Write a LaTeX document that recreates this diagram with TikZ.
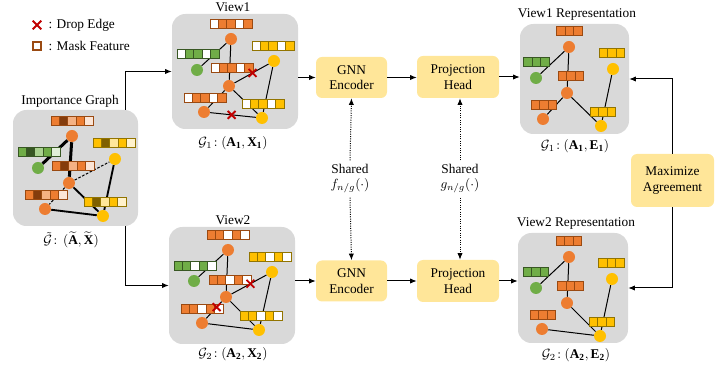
\documentclass[tikz,border=0pt]{standalone}
\usepackage{fontspec}
\setmainfont{Liberation Serif}
\usepackage{amsmath, amssymb}
\usetikzlibrary{calc, arrows.meta, shapes.misc}
\tikzset{every picture/.style={line width=0.75pt}}

\definecolor{boxgrey}{HTML}{D9D9D9}
\definecolor{nodeorange}{HTML}{ED7D31}
\definecolor{nodegreen}{HTML}{70AD47}
\definecolor{nodeyellow}{HTML}{FFC000}
\definecolor{darkorange}{HTML}{843C0C}
\definecolor{lightorange}{HTML}{F4B183}
\definecolor{paleorange}{HTML}{FBE5D6}
\definecolor{darkgreen}{HTML}{375623}
\definecolor{lightgreen}{HTML}{A9D18E}
\definecolor{palegreen}{HTML}{E2F0D9}
\definecolor{darkyellow}{HTML}{7F6000}
\definecolor{lightyellow}{HTML}{FFE699}
\definecolor{paleyellow}{HTML}{FFF2CC}
\definecolor{obrd}{HTML}{9A4A12}
\definecolor{gbrd}{HTML}{385723}
\definecolor{ybrd}{HTML}{927400}
\definecolor{blockyellow}{HTML}{FFE699}
\definecolor{dropred}{HTML}{C00000}

\pgfdeclarelayer{bottom}
\pgfdeclarelayer{boxes}
\pgfdeclarelayer{edges}
\pgfsetlayers{bottom,boxes,edges,main}

\tikzset{
  gbox/.style={fill=boxgrey, rounded corners=10pt, inner sep=0pt},
  onode/.style={circle, fill=nodeorange, inner sep=0pt, minimum size=9pt},
  gnode/.style={onode, fill=nodegreen},
  ynode/.style={onode, fill=nodeyellow},
  cell/.style={rectangle, inner sep=0pt, minimum width=6.3pt, minimum height=6.75pt, line width=0.75pt},
  edge/.style={draw=black, line width=0.75pt},
  boldedge/.style={draw=black, line width=2.25pt},
  midedge/.style={draw=black, line width=1.4pt},
  weakedge/.style={draw=black, line width=0.75pt, dash pattern=on 2pt off 1.2pt},
  dropx/.style={cross out, draw=dropred, line width=1.4pt, minimum size=4.5pt, inner sep=0pt},
  block/.style={fill=blockyellow, rounded corners=4.5pt, align=center, inner sep=0pt, font=\fontsize{10}{11.5}\selectfont},
  flow/.style={-{Latex[length=5pt,width=4pt]}, line width=0.75pt},
  sharedflow/.style={-{Latex[length=5pt,width=4pt]}, line width=0.75pt, densely dotted},
  title/.style={inner sep=1pt, font=\fontsize{10}{12}\selectfont}
}

% feature bar: [middle cell] name, centre, border colour, cell fills
\newcommand{\featbar}[5][3]{%
  \coordinate (#2) at #3;
  \foreach \fc [count=\ci] in {#5} {
    \node[cell, draw=#4, fill=\fc] (#2-\ci) at ($(#2)+({(\ci-#1)*8.4},0)$) {};
  }%
}

\begin{document}
\begin{tikzpicture}[x=0.75pt,y=0.75pt,yscale=-1,xscale=1]
\useasboundingbox (0,0) rectangle (715,370);

%Shape: Grey panels
\begin{pgfonlayer}{boxes}
\node[gbox, minimum width=93.75pt, minimum height=87pt] (imp) at (75.5,168) {};
\node[gbox, minimum width=94.5pt, minimum height=86.25pt] (v1) at (235,71.5) {};
\node[gbox, minimum width=94.5pt, minimum height=87.75pt] (v2) at (232,285.5) {};
\node[gbox, minimum width=81.75pt, minimum height=82.5pt] (rep1) at (574.5,79) {};
\node[gbox, minimum width=82.5pt, minimum height=82.5pt] (rep2) at (573,288) {};
\end{pgfonlayer}

% Text Node
\node[dropx, minimum size=5pt] (lgx) at (37,25) {};
\node[anchor=west, title] (lgxt) at (47,25) {: Drop Edge};
\node[cell, draw=obrd, fill=white, minimum width=6pt, minimum height=6pt, line width=0.9pt] (lgm) at (37,46) {};
\node[anchor=west, title] (lgmt) at (47,46) {: Mask Feature};

% Text Node
\node[title] (imptitle) at (70,101) {Importance Graph};
\node[title] (implab) at (71,240) {$\tilde{\mathcal{G}}\!:\,(\widetilde{\mathbf{A}},\widetilde{\mathbf{X}})$};
\node[title] (v1title) at (233,7) {View1};
\node[title] (v1lab) at (233,143) {$\mathcal{G}_1\!: (\mathbf{A_1}, \mathbf{X_1})$};
\node[title] (v2title) at (233,220) {View2};
\node[title] (v2lab) at (233,354) {$\mathcal{G}_2\!: (\mathbf{A_2}, \mathbf{X_2})$};
\node[title] (rep1title) at (577,15) {View1 Representation};
\node[title] (rep1lab) at (575,146) {$\mathcal{G}_1\!: (\mathbf{A_1}, \mathbf{E_1})$};
\node[title] (rep2title) at (576,224) {View2 Representation};
\node[title] (rep2lab) at (576,355) {$\mathcal{G}_2\!: (\mathbf{A_2}, \mathbf{E_2})$};

%Importance graph
\featbar{ibar1}{(72,121.5)}{obrd}{nodeorange,darkorange,lightorange,nodeorange,paleorange}
\featbar{ibar2}{(39,152.5)}{gbrd}{nodegreen,darkgreen,lightgreen,nodegreen,palegreen}
\featbar{ibar3}{(114,143.5)}{ybrd}{nodeyellow,darkyellow,lightyellow,nodeyellow,paleyellow}
\featbar{ibar4}{(73,166.5)}{obrd}{nodeorange,darkorange,lightorange,nodeorange,paleorange}
\featbar{ibar5}{(46,195.5)}{obrd}{nodeorange,darkorange,lightorange,nodeorange,paleorange}
\featbar{ibar6}{(105,202)}{ybrd}{nodeyellow,darkyellow,lightyellow,nodeyellow,paleyellow}
\node[onode] (ia) at (72,136) {};
\node[gnode] (ig) at (38,168) {};
\node[onode] (ib) at (69,183) {};
\node[onode] (ic) at (45,209) {};
\node[ynode] (iy) at (115,159) {};
\node[ynode] (iz) at (103,216) {};
\begin{pgfonlayer}{edges}
\draw[boldedge] (ia) -- (ig);
\draw[boldedge] (ia) -- (ib);
\draw[weakedge] (ib) -- (iy);
\draw[weakedge] (ib) -- (ic);
\draw[midedge] (ib) -- (iz);
\draw[midedge] (iy) -- (iz);
\draw[midedge] (ic) -- (iz);
\end{pgfonlayer}

%View1
\featbar{abar1}{(231,24.5)}{obrd}{white,nodeorange,nodeorange,white,nodeorange}
\featbar{abar2}{(198,54.5)}{gbrd}{white,nodegreen,nodegreen,white,nodegreen}
\featbar{abar3}{(273,46.5)}{ybrd}{white,nodeyellow,nodeyellow,white,nodeyellow}
\featbar{abar4}{(232,68.5)}{obrd}{white,nodeorange,nodeorange,white,nodeorange}
\featbar{abar5}{(205,98.5)}{obrd}{white,nodeorange,nodeorange,white,nodeorange}
\featbar{abar6}{(263,104.5)}{ybrd}{white,nodeyellow,nodeyellow,white,nodeyellow}
\node[onode] (aa) at (231,39) {};
\node[gnode] (ag) at (197,70) {};
\node[onode] (ab) at (229,86) {};
\node[onode] (ac) at (204,112) {};
\node[ynode] (ay) at (274,61) {};
\node[ynode] (az) at (262,118) {};
\begin{pgfonlayer}{edges}
\draw[edge] (aa) -- (ag);
\draw[edge] (aa) -- (ab);
\draw[edge] (ab) -- (ay);
\draw[edge] (ab) -- (ac);
\draw[edge] (ab) -- (az);
\draw[edge] (ay) -- (az);
\draw[edge] (ac) -- (az);
\end{pgfonlayer}
\path (ab) -- (ay) node[dropx, pos=0.53] (adrop1) {};
\path (ac) -- (az) node[dropx, pos=0.47] (adrop2) {};

%View2
\featbar{bbar1}{(228,235.5)}{obrd}{nodeorange,nodeorange,white,nodeorange,white}
\featbar{bbar2}{(195,266.5)}{gbrd}{nodegreen,nodegreen,white,nodegreen,white}
\featbar{bbar3}{(270,257.5)}{ybrd}{nodeyellow,nodeyellow,white,nodeyellow,white}
\featbar{bbar4}{(230,280.5)}{obrd}{nodeorange,nodeorange,white,nodeorange,white}
\featbar{bbar5}{(202,309.5)}{obrd}{nodeorange,nodeorange,white,nodeorange,white}
\featbar{bbar6}{(261,316.5)}{ybrd}{nodeyellow,nodeyellow,white,nodeyellow,white}
\node[onode] (ba) at (228,250) {};
\node[gnode] (bg) at (194,281) {};
\node[onode] (bb) at (226,297) {};
\node[onode] (bc) at (202,323) {};
\node[ynode] (by) at (272,272) {};
\node[ynode] (bz) at (259,330) {};
\begin{pgfonlayer}{edges}
\draw[edge] (ba) -- (bg);
\draw[edge] (ba) -- (bb);
\draw[edge] (bb) -- (by);
\draw[edge] (bb) -- (bc);
\draw[edge] (bb) -- (bz);
\draw[edge] (by) -- (bz);
\draw[edge] (bc) -- (bz);
\end{pgfonlayer}
\path (bb) -- (by) node[dropx, pos=0.54] (bdrop1) {};
\path (bb) -- (bc) node[dropx, pos=0.33] (bdrop2) {};

%View1 Representation
\featbar[2]{rbar1}{(569.5,31.5)}{obrd}{nodeorange,nodeorange,nodeorange}
\featbar[2]{rbar2}{(536.5,62.5)}{gbrd}{nodegreen,nodegreen,nodegreen}
\featbar[2]{rbar3}{(612,53.5)}{ybrd}{nodeyellow,nodeyellow,nodeyellow}
\featbar[2]{rbar4}{(571,76.5)}{obrd}{nodeorange,nodeorange,nodeorange}
\featbar[2]{rbar5}{(544,105.5)}{obrd}{nodeorange,nodeorange,nodeorange}
\featbar[2]{rbar6}{(603,112.5)}{ybrd}{nodeyellow,nodeyellow,nodeyellow}
\node[onode] (ra) at (569,47) {};
\node[gnode] (rg) at (536,78) {};
\node[onode] (rb) at (567,93) {};
\node[onode] (rc) at (543,119) {};
\node[ynode] (ry) at (613,69) {};
\node[ynode] (rz) at (601,126) {};
\begin{pgfonlayer}{edges}
\draw[edge] (ra) -- (rg);
\draw[edge] (ra) -- (rb);
\draw[edge] (rb) -- (rc);
\draw[edge] (rb) -- (rz);
\draw[edge] (ry) -- (rz);
\end{pgfonlayer}

%View2 Representation
\featbar[2]{sbar1}{(569,241.5)}{obrd}{nodeorange,nodeorange,nodeorange}
\featbar[2]{sbar2}{(536,272.5)}{gbrd}{nodegreen,nodegreen,nodegreen}
\featbar[2]{sbar3}{(611.5,263.5)}{ybrd}{nodeyellow,nodeyellow,nodeyellow}
\featbar[2]{sbar4}{(570.5,286.5)}{obrd}{nodeorange,nodeorange,nodeorange}
\featbar[2]{sbar5}{(543,315.5)}{obrd}{nodeorange,nodeorange,nodeorange}
\featbar[2]{sbar6}{(602,322.5)}{ybrd}{nodeyellow,nodeyellow,nodeyellow}
\node[onode] (sa) at (569,257) {};
\node[gnode] (sg) at (536,288) {};
\node[onode] (sb) at (567,303) {};
\node[onode] (sc) at (542,329) {};
\node[ynode] (sy) at (612,279) {};
\node[ynode] (sz) at (600,336) {};
\begin{pgfonlayer}{edges}
\draw[edge] (sa) -- (sg);
\draw[edge] (sa) -- (sb);
\draw[edge] (sb) -- (sz);
\draw[edge] (sy) -- (sz);
\draw[edge] (sc) -- (sz);
\end{pgfonlayer}

%Blocks
\node[block, minimum width=53.25pt, minimum height=30.75pt] (enc1) at (351.5,77.5) {GNN\\Encoder};
\node[block, minimum width=61.5pt, minimum height=31.5pt] (proj1) at (458,77) {Projection\\Head};
\node[block, minimum width=53.25pt, minimum height=30.75pt] (enc2) at (351.5,281) {GNN\\Encoder};
\node[block, minimum width=61.5pt, minimum height=31.5pt] (proj2) at (458,281) {Projection\\Head};
\node[block, minimum width=62.25pt, minimum height=39.75pt] (maxag) at (672.5,180.5) {Maximize\\Agreement};

% Text Node
\node[title, align=center, inner sep=3pt] (sharedf) at (350,179) {Shared\\[-1pt]$f_{n/g}(\cdot)$};
\node[title, align=center, inner sep=3pt] (sharedg) at (460,179) {Shared\\[-1pt]$g_{n/g}(\cdot)$};

%Straight Lines
\coordinate (fork) at (125,180);
\begin{pgfonlayer}{bottom}
\draw[flow] (fork) |- (v1.west);
\draw[flow] (fork) |- (v2.west);
\end{pgfonlayer}
\draw[flow] (v1.east |- enc1.west) -- (enc1.west);
\draw[flow] (enc1.east) -- (enc1.east -| proj1.west);
\draw[flow] (proj1.east) -- (proj1.east -| rep1.west);
\draw[flow] (v2.east |- enc2.west) -- (enc2.west);
\draw[flow] (enc2.east) -- (enc2.east -| proj2.west);
\draw[flow] (proj2.east) -- (proj2.east -| rep2.west);
\draw[flow] (maxag.north) |- (rep1.east);
\draw[flow] (maxag.south) |- (rep2.east);
\draw[sharedflow] (sharedf.north) -- (enc1.south);
\draw[sharedflow] (sharedf.south) -- (enc2.north);
\draw[sharedflow] (sharedg.north) -- (sharedg.north |- proj1.south);
\draw[sharedflow] (sharedg.south) -- (sharedg.south |- proj2.north);

\end{tikzpicture}
\end{document}
